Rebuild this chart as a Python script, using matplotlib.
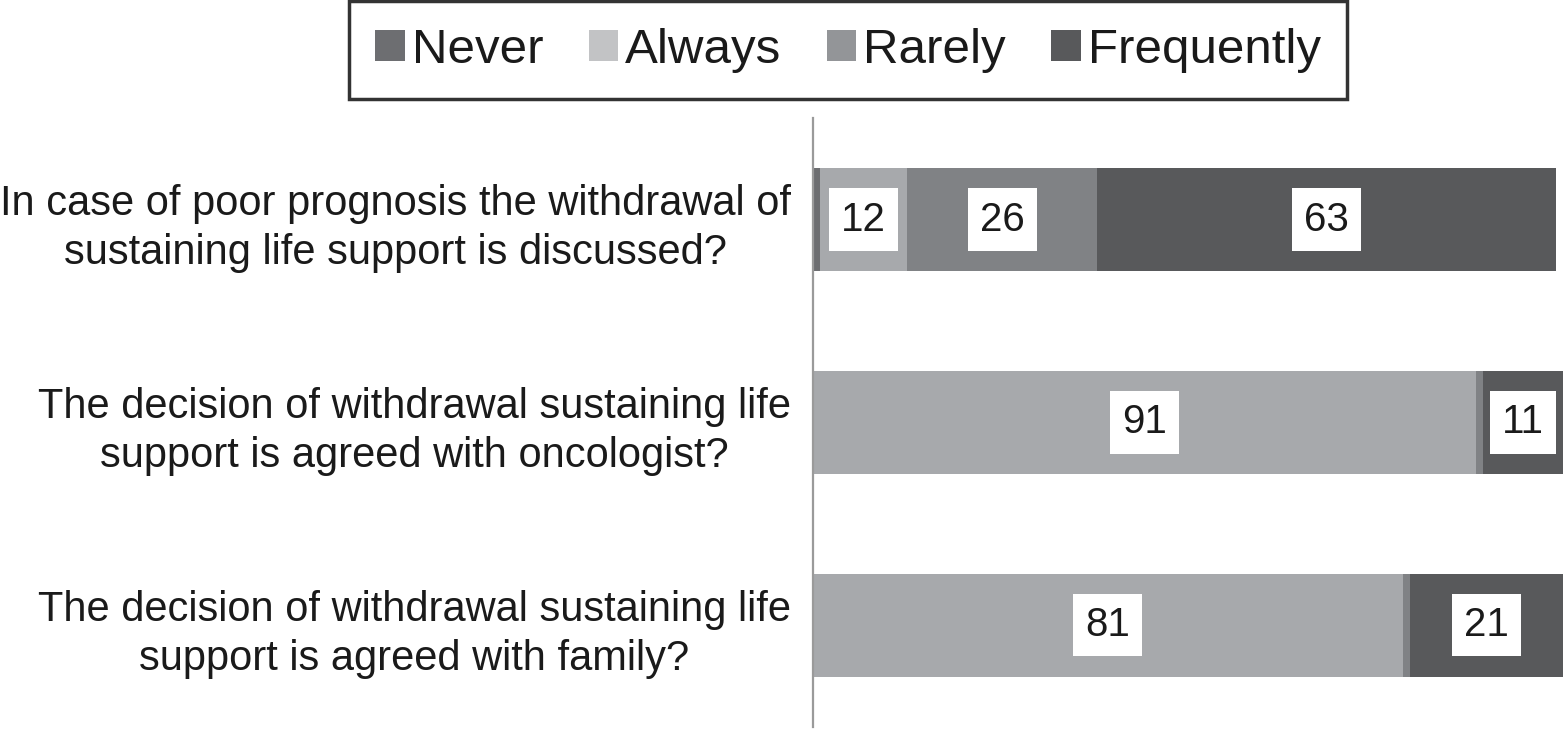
import matplotlib
matplotlib.use("Agg")
import matplotlib.pyplot as plt
import numpy as np
from matplotlib.patches import Patch

plt.rcParams["font.family"] = ["Liberation Sans", "DejaVu Sans"]

questions = [
    "In case of poor prognosis the withdrawal of\nsustaining life support is discussed?",
    "The decision of withdrawal sustaining life\nsupport is agreed with oncologist?",
    "The decision of withdrawal sustaining life\nsupport is agreed with family?",
]
series = ["Never", "Always", "Rarely", "Frequently"]
never = [1, 0, 0]
always = [12, 91, 81]
rarely = [26, 1, 1]
frequently = [63, 11, 21]

bar_colors = ["#6d6e71", "#a7a9ac", "#808285", "#58595b"]
legend_colors = ["#6d6e71", "#c2c3c5", "#939598", "#58595b"]

values = np.array([never, always, rarely, frequently], dtype=float)

fig = plt.figure(figsize=(15.63, 7.29), dpi=100)
ax = fig.add_axes([0.52, 0.003, 0.48, 0.835])

y = np.arange(len(questions))
left = np.zeros(len(questions))
for name, row, color in zip(series, values, bar_colors):
    ax.barh(y, row, left=left, height=0.51, color=color, edgecolor="none")
    for yi, (start, width) in enumerate(zip(left, row)):
        if width >= 5:
            ax.text(
                start + width / 2,
                yi,
                f"{int(width)}",
                ha="center",
                va="center",
                fontsize=29,
                color="#1a1a1a",
                bbox=dict(boxstyle="square,pad=0.3", facecolor="white", edgecolor="none"),
            )
    left += row

ax.set_xlim(0, 103)
ax.set_ylim(2.5, -0.5)
ax.set_yticks(y)
ax.set_yticklabels(questions, fontsize=30, multialignment="center", linespacing=1.3,
                   color="#1a1a1a")
ax.tick_params(axis="y", length=0, pad=16)
ax.set_xticks([])
for side in ["top", "right", "bottom"]:
    ax.spines[side].set_visible(False)
ax.spines["left"].set_color("#9a9a9a")
ax.spines["left"].set_linewidth(1.6)

handles = [Patch(facecolor=c, edgecolor="none") for c in legend_colors]
legend = fig.legend(
    handles,
    series,
    loc="upper center",
    bbox_to_anchor=(0.5425, 0.998),
    ncol=4,
    fontsize=35.5,
    frameon=True,
    fancybox=False,
    handlelength=0.6,
    handleheight=0.6,
    handletextpad=0.14,
    columnspacing=0.92,
    borderpad=0.53,
    borderaxespad=0,
)
legend.get_frame().set_edgecolor("black")
legend.get_frame().set_linewidth(2.5)
for text in legend.get_texts():
    text.set_color("#1a1a1a")

fig.savefig("out.png", dpi=100)
